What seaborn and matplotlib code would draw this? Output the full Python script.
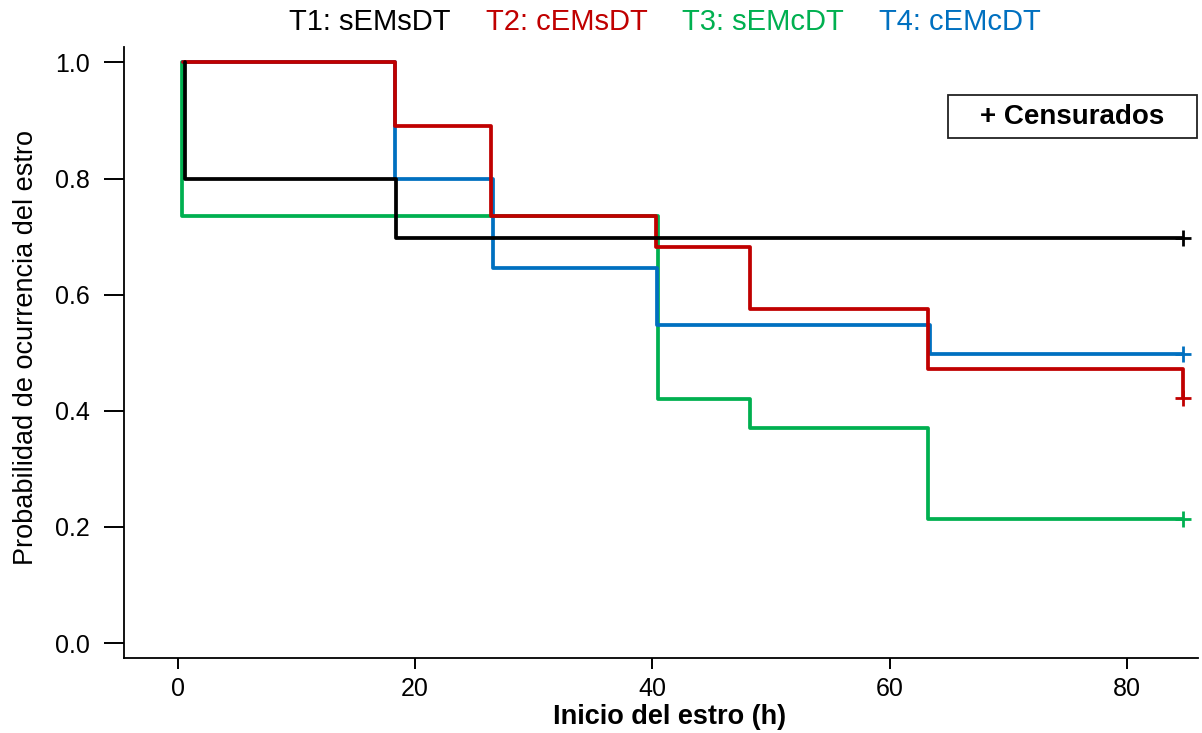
import pandas as pd
import matplotlib.pyplot as plt
import seaborn as sns
from matplotlib.patches import Rectangle

# Curvas de Kaplan-Meier (tiempo, probabilidad) por tratamiento
t1_time = [0.6, 0.6, 18.4, 84.7]
t1_surv = [1.0, 0.8, 0.697, 0.697]

t2_time = [0.4, 18.3, 26.35, 40.3, 48.2, 63.2, 84.7, 84.7]
t2_surv = [1.0, 0.891, 0.736, 0.682, 0.575, 0.472, 0.472, 0.422]

t3_time = [0.35, 0.35, 40.5, 48.2, 63.2, 84.7]
t3_surv = [1.0, 0.736, 0.421, 0.370, 0.213, 0.213]

t4_time = [0.4, 18.3, 26.6, 40.4, 63.4, 84.7]
t4_surv = [1.0, 0.8, 0.646, 0.548, 0.498, 0.498]

groups = ['T1: sEMsDT', 'T2: cEMsDT', 'T3: sEMcDT', 'T4: cEMcDT']
colors = ['#000000', '#C00000', '#00B050', '#0070C0']

# censurados
cens_group = groups
cens_time = [84.7, 84.7, 84.7, 84.7]
cens_surv = [0.697, 0.422, 0.213, 0.498]

x_ticks = [0, 20, 40, 60, 80]
y_ticks = [0.0, 0.2, 0.4, 0.6, 0.8, 1.0]

sns.set_style('ticks', {'axes.edgecolor': 'black', 'xtick.color': 'black',
                        'ytick.color': 'black', 'text.color': 'black',
                        'axes.labelcolor': 'black'})
plt.rcParams['font.family'] = ['Liberation Sans', 'DejaVu Sans']

frames = []
for g, t, s in zip(groups, [t1_time, t2_time, t3_time, t4_time],
                   [t1_surv, t2_surv, t3_surv, t4_surv]):
    frames.append(pd.DataFrame({'grupo': g, 'tiempo': t, 'prob': s}))
df = pd.concat(frames, ignore_index=True)
df_cens = pd.DataFrame({'grupo': cens_group, 'tiempo': cens_time, 'prob': cens_surv})

palette = dict(zip(groups, colors))
draw_order = ['T3: sEMcDT', 'T4: cEMcDT', 'T2: cEMsDT', 'T1: sEMsDT']

fig = plt.figure(figsize=(12.02, 7.33), dpi=100)
ax = fig.add_axes([124 / 1202, 75 / 733, 1074 / 1202, 611 / 733])

for g in draw_order:
    sub = df[df['grupo'] == g]
    sns.lineplot(data=sub, x='tiempo', y='prob', color=palette[g], ax=ax,
                 estimator=None, sort=False, drawstyle='steps-post',
                 linewidth=2.7, legend=False)
    cs = df_cens[df_cens['grupo'] == g]
    sns.scatterplot(data=cs, x='tiempo', y='prob', color=palette[g], ax=ax,
                    marker='+', s=120, linewidth=2.0, legend=False, zorder=5)

ax.set_xlim(-4.55, 86.0)
ax.set_ylim(-0.0258, 1.0267)
ax.set_xticks(x_ticks)
ax.set_yticks(y_ticks)
ax.set_yticklabels([f'{v:.1f}' for v in y_ticks])
ax.tick_params(axis='y', length=14.5, width=1.4, pad=10, labelsize=18,
               colors='black')
ax.tick_params(axis='x', length=8, width=1.4, pad=6, labelsize=18,
               colors='black')
for sp in ['left', 'bottom']:
    ax.spines[sp].set_linewidth(1.3)
    ax.spines[sp].set_color('black')
sns.despine(ax=ax)

ax.set_xlabel('Inicio del estro (h)', fontsize=19.5, fontweight='bold')
ax.xaxis.set_label_coords(0.508, -0.075)
ax.set_ylabel('Probabilidad de ocurrencia del estro', fontsize=19.5)
ax.yaxis.set_label_coords(-0.079, 0.509)

# titulo en colores
title_x = [370, 567, 763, 960]
for g, c, xp in zip(groups, colors, title_x):
    fig.text(xp / 1202, 1 - 30 / 733, g, color=c, fontsize=21,
             ha='center', va='baseline')

# cuadro de censurados
box = Rectangle((948 / 1202, 1 - 138 / 733), 249 / 1202, 43 / 733,
                transform=fig.transFigure, fill=False, edgecolor='#222222',
                linewidth=1.3)
fig.patches.append(box)
fig.text(1072 / 1202, 1 - 117 / 733, '+ Censurados', fontsize=20,
         fontweight='bold', ha='center', va='center')

fig.savefig('out.png', dpi=100)
